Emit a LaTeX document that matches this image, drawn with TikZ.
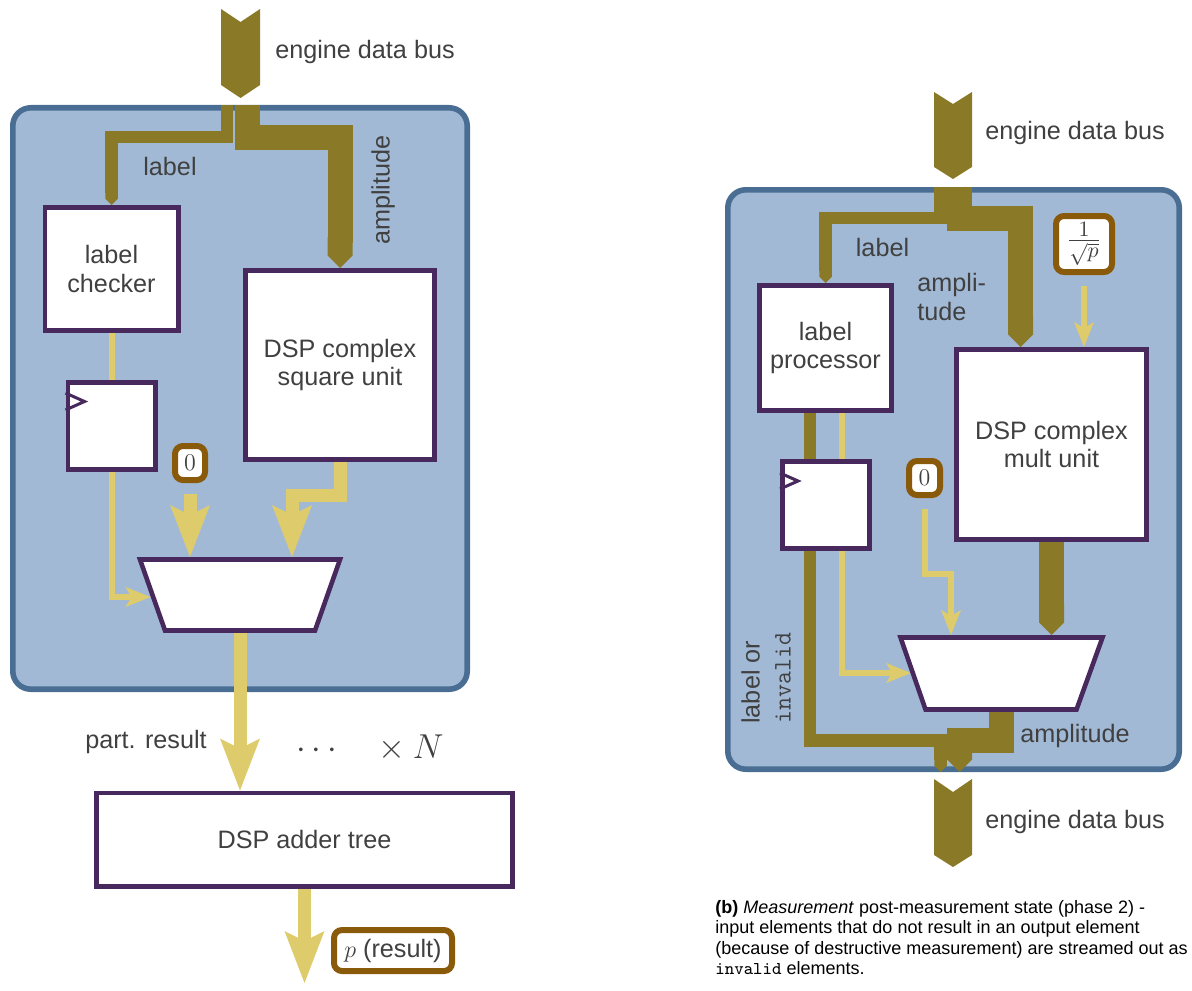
\documentclass[tikz,border=0pt]{standalone}
\usepackage[no-math]{fontspec}
\setmainfont{Liberation Sans}
\usetikzlibrary{arrows.meta}

\definecolor{panelfill}{HTML}{A1B9D5}
\definecolor{panelrim}{HTML}{4A6E93}
\definecolor{buscol}{HTML}{8A7A27}
\definecolor{sigcol}{HTML}{DECC6C}
\definecolor{unitrim}{HTML}{47295E}
\definecolor{constrim}{HTML}{8A5A0B}
\definecolor{ink}{HTML}{404040}

\pgfdeclarelayer{panels}
\pgfdeclarelayer{wires}
\pgfsetlayers{panels,wires,main}

\tikzset{
  every node/.style={text=ink, font=\fontsize{12.6}{14.2}\selectfont},
  panel/.style={draw=panelrim, fill=panelfill, line width=2.8pt, rounded corners=9pt},
  unit/.style={draw=unitrim, fill=white, line width=2.3pt, inner sep=0pt, align=center},
  regclk/.style={draw=unitrim, line width=1.5pt, line join=miter},
  konst/.style={draw=constrim, fill=white, line width=3pt, rounded corners=4pt, inner sep=0pt, align=center},
  muxshape/.style={draw=unitrim, fill=white, line width=2.3pt, line join=miter},
  lbl/.style={inner sep=0pt, align=center},
  busthin/.style={draw=buscol, line width=6.25pt},
  busthick/.style={draw=buscol, line width=12.5pt},
  bustip/.style={-{Triangle Cap[]}},
  sigplain/.style={draw=sigcol, line width=3pt},
  sigthin/.style={sigplain, -{Stealth[length=12.5pt, width=10pt, inset=3pt, line width=0pt]}},
  sigbig/.style={draw=sigcol, line width=6.5pt, -{Stealth[length=26pt, width=20pt, inset=5pt, line width=0pt]}},
}

\begin{document}
\begin{tikzpicture}[x=0.5pt, y=-0.5pt]
\useasboundingbox (0,0) rectangle (1192,990);

% ---------- panels ----------
\begin{pgfonlayer}{panels}
  \draw[panel] (12.8,107.8) rectangle (467.2,689.2);
  \draw[panel] (727.8,189.8) rectangle (1179.2,769.2);
\end{pgfonlayer}

% ---------- left: squaring stage ----------
\node[unit, minimum width=66.7pt, minimum height=61.7pt] (lc) at (111.5,269) {label\\checker};
\node[unit, minimum width=94.7pt, minimum height=94.7pt] (sq) at (340,365) {DSP complex\\square unit};
\node[unit, minimum width=43.7pt, minimum height=43.7pt] (regA) at (111.5,426) {};
\node[konst, minimum width=15pt, minimum height=17pt] (zeroA) at (190,463) {\fontsize{13}{15}\selectfont$0$};
\node[unit, minimum width=208.2pt, minimum height=46.7pt] (adder) at (304.5,839.5) {DSP adder tree};
\node[konst, minimum width=59pt, minimum height=20.5pt] (pres) at (393,950.5) {$p$ (result)};
\draw[muxshape] (140,559.5) -- (340,559.5) -- (315,630.5) -- (165,630.5) -- cycle;
\draw[regclk] ([yshift=-6.5pt]regA.north west) -- ++(19,8.5) -- ++(-19,8.5);

\coordinate (muxAin0) at (190,557);
\coordinate (muxAin1) at (292,557);
\coordinate (muxAsel) at (150.5,597);
\coordinate (muxAout) at (240,633);
\coordinate (pout) at (304.5,983);
\coordinate (busAlab) at (227,105);
\coordinate (busAamp) at (247,105);

\node[lbl] (busAtxt) at (365,52) {engine data bus};
\node[lbl] (labAtxt) at (170,166) {label};
\node[lbl, rotate=90] (ampAtxt) at (383,190) {amplitude};
\node[lbl] (parttxt) at (146,742) {part. result};
\node[lbl, font=\fontsize{17}{20}\selectfont] (reptxt) at (370,748) {$\cdots\quad\times N$};

\begin{pgfonlayer}{wires}
  \fill[buscol] (221,9) -- (240.5,22) -- (260,9) -- (260,85) -- (240.5,98) -- (221,85) -- cycle;
  \draw[busthin, bustip] (busAlab) -- ++(0,32) -| (lc.north);
  \draw[busthick, bustip] (busAamp) -- ++(0,32.5) -| (sq.north);
  \draw[sigplain] (lc.south) -- (regA.north);
  \draw[sigthin] (regA.south) |- (muxAsel);
  \draw[sigbig, shorten <=5.5pt] (zeroA.south) -- (muxAin0);
  \draw[sigbig] (sq.south) -- ++(0,33) -| (muxAin1);
  \draw[sigbig] (muxAout) -- (muxAout |- adder.north);
  \draw[sigbig] (adder.south) -- (pout);
\end{pgfonlayer}

% ---------- right: scaling stage ----------
\node[unit, minimum width=66.2pt, minimum height=62.7pt] (lp) at (825.5,348) {label\\processor};
\node[unit, minimum width=95.2pt, minimum height=95.2pt] (mult) at (1051.5,444.5) {DSP complex\\mult unit};
\node[unit, minimum width=43.7pt, minimum height=43.7pt] (regB) at (826,505) {};
\node[konst, minimum width=15.5pt, minimum height=17pt] (zeroB) at (924.5,478) {\fontsize{13}{15}\selectfont$0$};
\node[konst, minimum width=28pt, minimum height=28pt] (scale) at (1084,244) {\fontsize{15}{17}\selectfont$\frac{1}{\sqrt{p}}$};
\draw[muxshape] (900.5,637.5) -- (1102.5,637.5) -- (1076.5,709.5) -- (925.5,709.5) -- cycle;
\draw[regclk] ([yshift=-7pt]regB.north west) -- ++(18,8) -- ++(-18,8);

\coordinate (muxBin0) at (951,635);
\coordinate (muxBin1) at (1051.5,635);
\coordinate (muxBsel) at (911,673);
\coordinate (muxBout) at (1001.5,712);
\coordinate (labR) at (810,0);
\coordinate (selR) at (842,0);
\coordinate (busBlab) at (940.5,187);
\coordinate (busBamp) at (959.5,187);
\coordinate (joinBlab) at (940.5,740.5);
\coordinate (joinBamp) at (959.5,740.5);
\coordinate (outBlab) at (940.5,772);
\coordinate (outBamp) at (959.5,772);

\node[lbl] (busBtxt) at (1075,133) {engine data bus};
\node[lbl] (labBtxt) at (882.5,247) {label};
\node[lbl, anchor=west, align=left] (ampBtxt) at (917,297) {ampli-\\tude};
\node[lbl] (ampOtxt) at (1075,736) {amplitude};
\node[lbl] (busOtxt) at (1075,822) {engine data bus};
\node[lbl, rotate=90, anchor=north west, align=left] (lblinv) at (741,724) {label or\\[1.3pt]\texttt{invalid}};
\node[lbl, anchor=north west, align=left, text=black, font=\fontsize{9}{10.2}\selectfont] (caption) at (715,900)
  {\textbf{(b)} \textit{Measurement} post-measurement state (phase 2) -\\
   input elements that do not result in an output element\\
   (because of destructive measurement) are streamed out as\\
   \texttt{invalid} elements.};

\begin{pgfonlayer}{wires}
  \fill[buscol] (934,92) -- (953,104) -- (972,92) -- (972,167) -- (953,179) -- (934,167) -- cycle;
  \fill[buscol] (934,779) -- (953,792) -- (972,779) -- (972,855) -- (953,867) -- (934,855) -- cycle;
  \draw[busthin, bustip] (busBlab) -- ++(0,31) -| (lp.north);
  \draw[busthick, bustip] (busBamp) -- ++(0,31.5) -| ([xshift=-15.5pt]mult.north);
  \draw[busthin] (lp.south -| labR) -- (regB.north -| labR);
  \draw[sigplain] (lp.south -| selR) -- (regB.north -| selR);
  \draw[busthin, bustip] (regB.south -| labR) |- (joinBlab) -- (outBlab);
  \draw[sigthin] (regB.south -| selR) |- (muxBsel);
  \draw[sigthin, shorten <=5.5pt] (zeroB.south) -- ++(0,75.5) -| (muxBin0);
  \draw[sigthin, shorten <=5.5pt] (scale.south) -- (scale.south |- mult.north);
  \draw[busthick, bustip] (mult.south) -- (muxBin1);
  \draw[busthick, bustip] (muxBout) |- (joinBamp) -- (outBamp);
\end{pgfonlayer}

\end{tikzpicture}
\end{document}
